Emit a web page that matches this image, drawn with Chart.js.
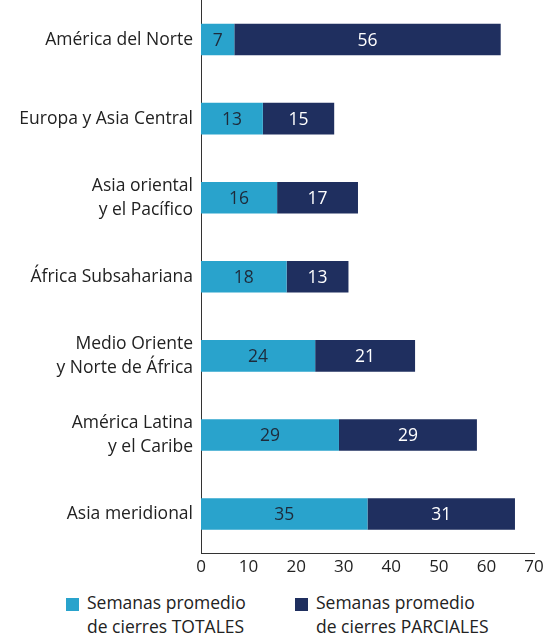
<!DOCTYPE html>
<html>
<head>
<meta charset="utf-8">
<script src="https://cdn.jsdelivr.net/npm/chart.js@4.4.1/dist/chart.umd.min.js"></script>
<style>
  html, body { margin: 0; padding: 0; background: #fff; }
  #wrap { position: relative; width: 560px; height: 636px; }
  #chartBox { position: absolute; left: 0; top: 0; width: 560px; height: 580px; }
  .legend { position: absolute; top: 590px; font-family: "Open Sans", sans-serif; font-size: 17.5px; line-height: 24px; color: #222; }
  .legend .sw { position: absolute; left: 0; top: 8px; width: 13px; height: 13px; }
  .legend .tx { position: absolute; left: 21px; top: 0; white-space: nowrap; }
</style>
</head>
<body>
<div id="wrap">
  <div id="chartBox"><canvas id="c"></canvas></div>
  <div class="legend" style="left:66px;"><div class="sw" style="background:#29a3cc"></div><div class="tx">Semanas promedio<br>de cierres TOTALES</div></div>
  <div class="legend" style="left:295px;"><div class="sw" style="background:#1f2f5f"></div><div class="tx">Semanas promedio<br>de cierres PARCIALES</div></div>
</div>
<script>
const categories = [
  "América del Norte",
  "Europa y Asia Central",
  ["Asia oriental", "y el Pacífico"],
  "África Subsahariana",
  ["Medio Oriente", "y Norte de África"],
  ["América Latina", "y el Caribe"],
  "Asia meridional"
];
const totales = [7, 13, 16, 18, 24, 29, 35];
const parciales = [56, 15, 17, 13, 21, 29, 31];
const seriesNames = ["Semanas promedio de cierres TOTALES", "Semanas promedio de cierres PARCIALES"];
const xTicks = [0, 10, 20, 30, 40, 50, 60, 70];

const FONT = '"Open Sans", sans-serif';

const barLabels = {
  id: 'barLabels',
  afterDatasetsDraw(chart) {
    const ctx = chart.ctx;
    ctx.save();
    ctx.font = '17.5px ' + FONT;
    ctx.textAlign = 'center';
    ctx.textBaseline = 'middle';
    chart.data.datasets.forEach((ds, di) => {
      const meta = chart.getDatasetMeta(di);
      meta.data.forEach((el, i) => {
        const p = el.getProps(['x', 'y', 'base'], true);
        ctx.fillStyle = di === 0 ? '#1e2a3a' : '#ffffff';
        ctx.fillText(String(ds.data[i]), (p.x + p.base) / 2, p.y + 1);
      });
    });
    ctx.restore();
  }
};

new Chart(document.getElementById('c'), {
  type: 'bar',
  data: {
    labels: categories,
    datasets: [
      { label: seriesNames[0], data: totales, backgroundColor: '#29a3cc', borderWidth: 0, barPercentage: 0.8, categoryPercentage: 0.5 },
      { label: seriesNames[1], data: parciales, backgroundColor: '#1f2f5f', borderWidth: 0, barPercentage: 0.8, categoryPercentage: 0.5 }
    ]
  },
  options: {
    indexAxis: 'y',
    responsive: true,
    maintainAspectRatio: false,
    animation: false,
    layout: { padding: { top: 0, right: 26, bottom: 0, left: 0 } },
    plugins: { legend: { display: false }, tooltip: { enabled: false } },
    scales: {
      x: {
        stacked: true,
        min: 0, max: 70,
        afterBuildTicks: (s) => { s.ticks = xTicks.map(v => ({ value: v })); },
        grid: { display: false, drawTicks: false },
        border: { display: true, color: '#333', width: 1 },
        ticks: { color: '#222', font: { family: FONT, size: 17 }, padding: 3 }
      },
      y: {
        stacked: true,
        grid: { display: false, drawTicks: false },
        border: { display: true, color: '#333', width: 1 },
        afterFit: (s) => { s.width = 201; s.paddingTop = 0; s.paddingBottom = 0; },
        ticks: { color: '#222', font: { family: FONT, size: 17.5, lineHeight: 1.37 }, padding: 8 }
      }
    }
  },
  plugins: [barLabels]
});
</script>
</body>
</html>
